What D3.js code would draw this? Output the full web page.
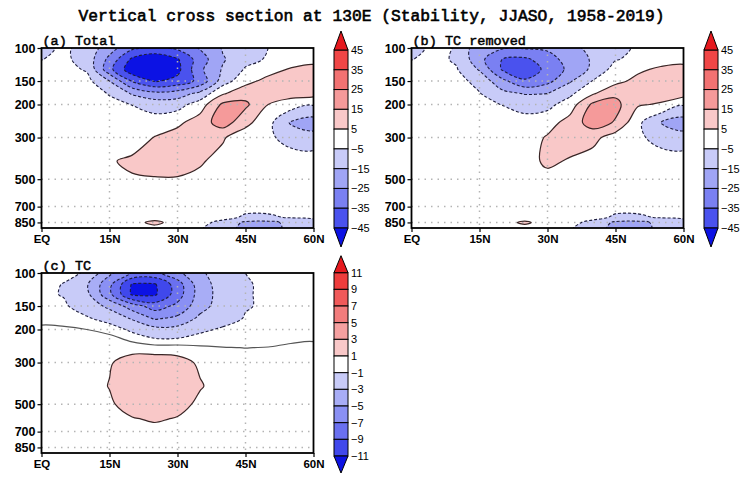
<!DOCTYPE html>
<html>
<head>
<meta charset="utf-8">
<script src="https://cdn.jsdelivr.net/npm/d3@7"></script>
<style>
  body { margin: 0; background: #fff; }
  svg { display: block; }
</style>
</head>
<body>
<svg id="chart" width="743" height="477"></svg>
<script>
// ---- grid and axes ----
const latitudes = [0, 5, 10, 15, 20, 25, 30, 35, 40, 45, 50, 55, 60];
const pressureLevels = [100, 115, 130, 150, 175, 200, 250, 300, 400, 500, 600, 700, 800, 850, 925];
const latTicks = [0, 15, 30, 45, 60];
const latTickLabels = ["EQ", "15N", "30N", "45N", "60N"];
const pressureTicks = [100, 150, 200, 300, 500, 700, 850];
const gridLats = [15, 30, 45];
const gridPressures = [150, 200, 300, 500, 700, 850];

// ---- contour levels ----
const levelsTotal = [-45, -35, -25, -15, -5, 5, 15, 25, 35, 45];
const levelsTC = [-11, -9, -7, -5, -3, -1, 1, 3, 5, 7, 9, 11];

// fill colours, from the lowest open band to the highest open band
const colorsTotal = ["#0c12e4", "#4a52ee", "#7a80f2", "#a0a5f5", "#c8cbf8", "#ffffff",
                     "#f9c8c8", "#f59a9a", "#f27272", "#f04646", "#e6191e"];
const colorsTC = ["#0c12e4", "#4048ec", "#6a70f0", "#8a90f4", "#a8adf6", "#c8cbf8", "#ffffff",
                  "#f9c8c8", "#f5a0a0", "#f27c7c", "#f05a5a", "#ee3c3c", "#e6191e"];

// ---- stability anomaly fields (rows: pressureLevels, columns: latitudes) ----
const totalField = [
  [-8, -3, -9, -20, -33, -38, -33, -24, -14, -9, -5, -2, 0],
  [-5.2, -3, -9, -28, -47, -52, -46, -30, -16, -8, -4, -1, 2],
  [-2, -2, -6, -32, -52, -55, -48, -27, -14, -4, 1, 6, 8],
  [-1, -1, -2, -15, -36, -46, -42, -32, -10, 2, 8, 9, 10],
  [0, -0.5, -1, -5.5, -16, -22, -20, -12, 4, 11, 10, 9, 9],
  [0, 0, -1, -3, -5.2, -9, -9, 0, 17, 17, 5, 0, -4],
  [0, 0, 0, 0, -1, -1, 3, 10, 20, 8, -2, -16, -20],
  [0, 0, 0, 0, -1, 5.5, 9, 10, 6, -1, -3, -9, -11],
  [0, 0, 0, 4, 7, 8, 8, 6, 2, 0, -1, 0, 0],
  [0, 0, 0, 2, 4, 4.5, 4.5, 3, 1, 0, 0, 0, 0],
  [0, 0, 0, 1, 1, 1, 1, 0, 0, 0, -1, -1, -1],
  [0, 0, 0, 0, 0, 0, 0, 0, -1, -3, -3, -3, -2],
  [0, 0, 0, 0, 0, 0, -1, -1, -3, -6, -6, -4.5, -3.5],
  [0, 0, 0, 0, 1, 8, 0, -3, -7, -17, -18, -12, -9],
  [0, 0, 0, 0, 0, 0, -1, -4, -12, -17, -18, -13, -8]
];

const tcRemovedField = [
  [-8, -3, -5.5, -22, -24, -24, -23, -18, -12, -7, -4, -1, 0],
  [-5.2, -3, -6, -22, -35, -37, -30, -20, -14, -5.5, -3, 0, 2],
  [-2, -2, -4.5, -16, -36, -40, -33, -22, -13, -1, 3, 7, 8],
  [-1, -1, -2, -8, -22, -34, -28, -16, -4.5, 2, 8, 9, 10],
  [0, -0.5, -1, -4.5, -12, -15.5, -15, -7, 4, 13, 11, 9, 9],
  [0, 0, -1, -3, -5.2, -9, -8, 0, 17, 18, 6, 4, -4],
  [0, 0, 0, 0, 0, -1, 1, 9, 20, 14, -3, -15, -20],
  [0, 0, 0, 0, 0, 0, 6, 10, 8, 0, -3, -9, -11],
  [0, 0, 0, 0, 0, 1, 7, 4, 1, 0, -1, 0, 0],
  [0, 0, 0, 0, 0, 1, 2, 1, 0, 0, 0, 0, 0],
  [0, 0, 0, 0, 0, 0, 0, 0, 0, 0, -1, -1, -1],
  [0, 0, 0, 0, 0, 0, 0, 0, -1, -3, -3, -3, -2],
  [0, 0, 0, 0, 0, 0, -1, -1, -3, -6, -6, -4.5, -3.5],
  [0, 0, 0, 0, 1, 7, 0, -3, -7, -17, -18, -12, -9],
  [0, 0, 0, 0, 0, 0, -1, -4, -12, -17, -18, -13, -8]
];

const tcField = [
  [-0.2, -0.5, -1.2, -4.5, -7.2, -7.5, -5.5, -3.3, -2, -1, -0.6, -0.5, -0.5],
  [-0.4, -1.1, -2.8, -6.5, -11.2, -11.2, -8, -3.8, -2.2, -1.1, -0.8, -0.6, -0.6],
  [-0.7, -1.1, -2.5, -6.5, -11.3, -11.3, -8, -4, -2.2, -1.1, -0.8, -0.7, -0.7],
  [-0.4, -0.8, -1.8, -3.5, -6, -8, -6.5, -3.8, -2, -1.1, -0.8, -0.7, -0.6],
  [-0.3, -0.5, -0.8, -1.6, -3.2, -5.2, -4.5, -2.5, -1.6, -0.9, -0.7, -0.6, -0.5],
  [0.2, 0.2, 0, -0.3, -1.3, -2.3, -2.3, -1.3, -0.8, -0.6, -0.5, -0.5, -0.4],
  [0.4, 0.5, 0.6, 0.8, 0.6, 0.4, 0.4, 0.15, 0.03, -0.01, 0.02, 0.15, 0.2],
  [0.3, 0.4, 0.5, 0.9, 1.5, 1.7, 1.5, 0.8, 0.5, 0.3, 0.3, 0.3, 0.3],
  [0.3, 0.4, 0.5, 1.05, 2, 2.2, 1.9, 1.1, 0.5, 0.3, 0.3, 0.3, 0.3],
  [0.3, 0.4, 0.5, 0.8, 1.6, 2, 1.5, 0.7, 0.4, 0.3, 0.3, 0.3, 0.3],
  [0.3, 0.3, 0.4, 0.5, 0.9, 1.15, 0.9, 0.5, 0.3, 0.3, 0.3, 0.3, 0.3],
  [0.3, 0.3, 0.3, 0.4, 0.5, 0.6, 0.5, 0.4, 0.3, 0.3, 0.3, 0.3, 0.3],
  [0.3, 0.3, 0.3, 0.3, 0.3, 0.3, 0.3, 0.3, 0.3, 0.3, 0.3, 0.3, 0.3],
  [0.2, 0.2, 0.2, 0.2, 0.2, 0.2, 0.2, 0.2, 0.2, 0.2, 0.2, 0.2, 0.2],
  [0.2, 0.2, 0.2, 0.2, 0.2, 0.2, 0.2, 0.2, 0.2, 0.2, 0.2, 0.2, 0.2]
];

// ---- layout ----
const W = 272, H = 180;
const panels = [
  { id: "a", label: "(a) Total", field: totalField, levels: levelsTotal, colors: colorsTotal,
    left: 41.5, top: 48, bar: { top: 50, bottom: 228, tri: 19 } },
  { id: "b", label: "(b) TC removed", field: tcRemovedField, levels: levelsTotal, colors: colorsTotal,
    left: 411.5, top: 48, bar: { top: 50, bottom: 228, tri: 19 } },
  { id: "c", label: "(c) TC", field: tcField, levels: levelsTC, colors: colorsTC, zeroLine: true,
    left: 41.5, top: 273, bar: { top: 272.7, bottom: 456, tri: 17 } }
];

const svg = d3.select("#chart");
const x = d3.scaleLinear().domain([0, 60]).range([0, W]);
const y = d3.scaleLog().domain([100, 910]).range([0, H]);

const nLat = latitudes.length, nLev = pressureLevels.length;
const logLev = pressureLevels.map(Math.log10);
const latStep = latitudes[1] - latitudes[0];

// contour-space point -> pixel, linear in latitude and in log-pressure
function gridToPixel([cx, cy]) {
  const i = cx - 0.5, r = cy - 0.5;
  const lat = latitudes[0] + i * latStep;
  const k = Math.max(0, Math.min(nLev - 2, Math.floor(r)));
  const lp = logLev[k] + (r - k) * (logLev[k + 1] - logLev[k]);
  return [x(lat), y(Math.pow(10, lp))];
}

const smoothRing = d3.line().curve(d3.curveCatmullRomClosed.alpha(0.5));

function geomPath(geom) {
  let d = "";
  for (const poly of geom.coordinates) {
    for (const ring of poly) {
      const pts = [];
      for (let k = 0; k < ring.length - 1; k++) {
        const p = gridToPixel(ring[k]);
        const q = pts[pts.length - 1];
        if (!q || Math.abs(p[0] - q[0]) + Math.abs(p[1] - q[1]) > 0.05) pts.push(p);
      }
      if (pts.length > 2) d += smoothRing(pts);
    }
  }
  return d;
}

// region where value >= t (or value <= t when below is set)
function region(field, t, below) {
  const flat = field.flat().map(v => below ? -v : v);
  return d3.contours().size([nLat, nLev]).thresholds([below ? -t : t])(flat)[0];
}

svg.append("text")
  .attr("x", 371.5).attr("y", 21)
  .attr("text-anchor", "middle")
  .style("font-family", "'Liberation Mono', monospace")
  .style("font-size", "16.3px")
  .attr("stroke", "#000").attr("stroke-width", 0.6)
  .text("Vertical cross section at 130E (Stability, JJASO, 1958-2019)");

panels.forEach(pn => {
  const g = svg.append("g").attr("transform", `translate(${pn.left},${pn.top})`);
  const clipId = "clip-" + pn.id;
  svg.append("defs").append("clipPath").attr("id", clipId)
    .append("rect").attr("x", 0).attr("y", 0).attr("width", W).attr("height", H);

  const plot = g.append("g").attr("clip-path", `url(#${clipId})`);
  plot.append("rect").attr("width", W).attr("height", H).attr("fill", "#fff");

  const lv = pn.levels.map((t, i) => ({ t, i }));
  const neg = lv.filter(d => d.t < 0).reverse();
  const pos = lv.filter(d => d.t > 0);

  // shaded bands
  neg.forEach(({ t, i }) => {
    plot.append("path").attr("d", geomPath(region(pn.field, t, true)))
      .attr("fill", pn.colors[i]).attr("fill-rule", "evenodd");
  });
  pos.forEach(({ t, i }) => {
    plot.append("path").attr("d", geomPath(region(pn.field, t, false)))
      .attr("fill", pn.colors[i + 1]).attr("fill-rule", "evenodd");
  });

  // dotted grid
  plot.selectAll(".gx").data(gridLats).enter().append("line")
    .attr("x1", d => x(d)).attr("x2", d => x(d)).attr("y1", 0).attr("y2", H)
    .attr("stroke", "#b4b4b4").attr("stroke-width", 1.5).attr("stroke-dasharray", "1.5 5");
  plot.selectAll(".gy").data(gridPressures).enter().append("line")
    .attr("x1", 0).attr("x2", W).attr("y1", d => y(d)).attr("y2", d => y(d))
    .attr("stroke", "#b4b4b4").attr("stroke-width", 1.5).attr("stroke-dasharray", "1.5 5");

  // contour lines
  neg.forEach(({ t }) => {
    plot.append("path").attr("d", geomPath(region(pn.field, t, true)))
      .attr("fill", "none").attr("stroke", "#1e1e3c").attr("stroke-width", 1.1)
      .attr("stroke-dasharray", "3 2");
  });
  pos.forEach(({ t }) => {
    plot.append("path").attr("d", geomPath(region(pn.field, t, false)))
      .attr("fill", "none").attr("stroke", "#3a2626").attr("stroke-width", 1.2);
  });
  if (pn.zeroLine) {
    plot.append("path").attr("d", geomPath(region(pn.field, 0, false)))
      .attr("fill", "none").attr("stroke", "#555").attr("stroke-width", 1.2);
  }

  // frame
  g.append("rect").attr("width", W).attr("height", H)
    .attr("fill", "none").attr("stroke", "#000").attr("stroke-width", 1.8);

  // axes
  const yAxis = g.append("g").call(
    d3.axisLeft(y).tickValues(pressureTicks).tickFormat(d3.format("d")).tickSize(4).tickPadding(2));
  const xAxis = g.append("g").attr("transform", `translate(0,${H})`).call(
    d3.axisBottom(x).tickValues(latTicks).tickFormat((d, i) => latTickLabels[i]).tickSize(4).tickPadding(3));
  [yAxis, xAxis].forEach(ax => {
    ax.select(".domain").remove();
    ax.selectAll("line").attr("stroke", "#000").attr("stroke-width", 1.2);
    ax.selectAll("text")
      .style("font-family", "'Liberation Sans', Arial, sans-serif")
      .style("font-weight", "bold").attr("fill", "#000");
  });
  yAxis.selectAll("text").style("font-size", "12.5px");
  xAxis.selectAll("text").style("font-size", "11.5px");

  // panel label
  g.append("text").attr("x", 1).attr("y", -3)
    .style("font-family", "'Liberation Mono', monospace")
    .style("font-size", "13.5px")
    .attr("stroke", "#000").attr("stroke-width", 0.5)
    .text(pn.label);

  // colour bar
  const bx = pn.left + 292.5, bw = 14;
  const nBox = pn.levels.length - 1;
  const by = d3.scaleLinear().domain([0, nBox]).range([pn.bar.top, pn.bar.bottom]);
  const desc = pn.levels.slice().reverse();
  const cb = svg.append("g");
  const nC = pn.colors.length;
  for (let k = 0; k < nBox; k++) {
    cb.append("rect").attr("x", bx).attr("y", by(k)).attr("width", bw).attr("height", by(k + 1) - by(k))
      .attr("fill", pn.colors[nC - 2 - k]).attr("stroke", "#000").attr("stroke-width", 1);
  }
  cb.append("path")
    .attr("d", `M${bx},${pn.bar.top}L${bx + bw / 2},${pn.bar.top - pn.bar.tri}L${bx + bw},${pn.bar.top}Z`)
    .attr("fill", pn.colors[nC - 1]).attr("stroke", "#000").attr("stroke-width", 1);
  cb.append("path")
    .attr("d", `M${bx},${pn.bar.bottom}L${bx + bw / 2},${pn.bar.bottom + pn.bar.tri}L${bx + bw},${pn.bar.bottom}Z`)
    .attr("fill", pn.colors[0]).attr("stroke", "#000").attr("stroke-width", 1);
  cb.selectAll("text").data(desc).enter().append("text")
    .attr("x", bx + bw + 3).attr("y", (d, k) => by(k)).attr("dy", "0.35em")
    .style("font-family", "'Liberation Sans', Arial, sans-serif").style("font-size", "11px")
    .text(d => d < 0 ? "\u2212" + Math.abs(d) : String(d));
});
</script>
</body>
</html>
